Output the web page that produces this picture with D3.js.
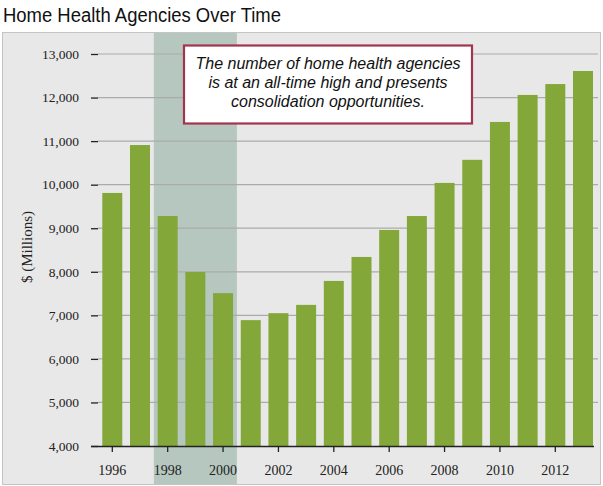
<!DOCTYPE html>
<html><head><meta charset="utf-8">
<script src="https://cdn.jsdelivr.net/npm/d3@7"></script>
<style>body{margin:0;background:#fff;}svg{display:block;}</style>
</head><body>
<svg id="c" width="603" height="486"></svg>
<script>
const years = [1996,1997,1998,1999,2000,2001,2002,2003,2004,2005,2006,2007,2008,2009,2010,2011,2012,2013];
const agencies = [9810,10910,9280,7995,7510,6890,7050,7240,7790,8340,8960,9280,10040,10570,11440,12060,12310,12610];
const yTicks = [4000,5000,6000,7000,8000,9000,10000,11000,12000,13000];
const xTickLabels = [1996,1998,2000,2002,2004,2006,2008,2010,2012];
const shadedYears = [1998,2000];
const titleText = "Home Health Agencies Over Time";
const yLabel = "$ (Millions)";
const noteLines = ["The number of home health agencies","is at an all-time high and presents","consolidation opportunities."];

const serif = "'Liberation Serif','Times New Roman',serif";
const sans = "'Liberation Sans',Arial,sans-serif";
const svg = d3.select("#c");
// panel
svg.append("rect").attr("x",2.5).attr("y",32.5).attr("width",598).attr("height",452)
  .attr("fill","#e8e8e8").attr("stroke","#c4c4c4").attr("stroke-width",1);

const x = d3.scaleBand().domain(years).range([94, 601.3]).paddingInner(0.278).paddingOuter(0.3);
const y = d3.scaleLinear().domain([4000,13000]).range([446,54]);

// shaded band
const gap = x.step()-x.bandwidth();
svg.append("rect")
  .attr("x", x(shadedYears[0]) - gap/2)
  .attr("y", 33)
  .attr("width", x(shadedYears[1]) + x.bandwidth() + gap/2 - (x(shadedYears[0]) - gap/2))
  .attr("height", 451)
  .attr("fill","#b6c7bf");

// gridlines
svg.append("g").selectAll("line").data(yTicks.slice(1)).join("line")
  .attr("x1",98).attr("x2",598).attr("y1",d=>y(d)).attr("y2",d=>y(d))
  .attr("stroke","#ababab").attr("stroke-width",1.2);

// y axis ticks & labels
const yAxis = d3.axisLeft(y).tickValues(yTicks).tickSize(7).tickFormat(d3.format(","));
const gy = svg.append("g").attr("transform","translate(98,0)").call(yAxis);
gy.select(".domain").remove();
gy.selectAll(".tick line").attr("stroke","#222").attr("stroke-width",1.3);
gy.selectAll(".tick text").attr("x",-19).attr("font-family",serif)
  .attr("font-size",13.5).attr("fill","#222");

// bars
svg.append("g").selectAll("rect").data(years).join("rect")
  .attr("x",d=>x(d)).attr("width",x.bandwidth())
  .attr("y",(d,i)=>y(agencies[i])).attr("height",(d,i)=>y(4000)-y(agencies[i]))
  .attr("fill","#84a73a");

// x axis
const xAxis = d3.axisBottom(x).tickValues(xTickLabels).tickSize(6).tickSizeOuter(0);
const gx = svg.append("g").attr("transform","translate(0,446)").call(xAxis);
gx.select(".domain").attr("d","M91,0.5H594").attr("stroke","#222").attr("stroke-width",1.5);
gx.selectAll(".tick line").attr("stroke","#222").attr("stroke-width",1.3);
gx.selectAll(".tick text").attr("y",19).attr("font-family",serif)
  .attr("font-size",14).attr("fill","#222");

// y label
svg.append("text").attr("transform","translate(32,247) rotate(-90)").attr("text-anchor","middle")
  .attr("font-family",serif).attr("font-size",15).attr("fill","#222")
  .text(yLabel);

// title
svg.append("text").attr("x",3).attr("y",22).attr("font-family",sans)
  .attr("font-size",20).attr("fill","#111")
  .attr("textLength",278).attr("lengthAdjust","spacingAndGlyphs").text(titleText);

// note box
svg.append("rect").attr("x",184).attr("y",45.5).attr("width",288).attr("height",78)
  .attr("fill","#fff").attr("stroke","#a3344e").attr("stroke-width",2.2);
svg.append("g").selectAll("text").data(noteLines).join("text")
  .attr("x",328).attr("y",(d,i)=>69+i*19).attr("text-anchor","middle")
  .attr("font-family",sans).attr("font-style","italic")
  .attr("font-size",16).attr("fill","#111").text(d=>d);
</script>
</body></html>
